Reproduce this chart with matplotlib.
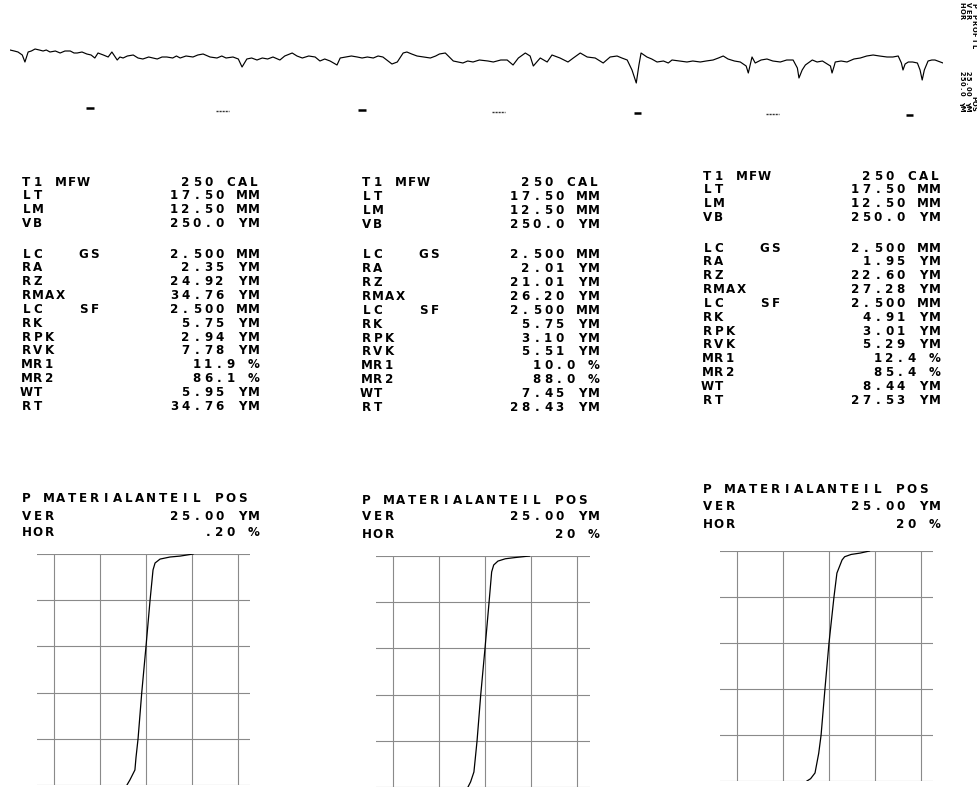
import matplotlib
matplotlib.use("Agg")
import matplotlib.pyplot as plt

W, H = 978, 787

# ---- roughness profile (position along trace in mm, height in um) ----
profile_pos_mm = [
    0.00, 0.08, 0.15, 0.23, 0.28, 0.34, 0.40, 0.47, 0.55, 0.62, 0.68, 0.75, 0.85, 0.94,
    1.03, 1.13, 1.20, 1.26, 1.35, 1.44, 1.52, 1.59, 1.65, 1.75, 1.84, 1.91, 2.01, 2.06,
    2.12, 2.20, 2.31, 2.40, 2.49, 2.60, 2.68, 2.76, 2.85, 2.94, 3.05, 3.12, 3.19, 3.30,
    3.43, 3.52, 3.62, 3.75, 3.88, 3.97, 4.05, 4.18, 4.28, 4.35, 4.44, 4.53, 4.63, 4.73,
    4.83, 4.93, 5.06, 5.15, 5.29, 5.38, 5.48, 5.60, 5.72, 5.81, 5.90, 6.00, 6.13, 6.19,
    6.30, 6.40, 6.51, 6.60, 6.70, 6.81, 6.90, 6.99, 7.16, 7.26, 7.37, 7.44, 7.53, 7.63,
    7.75, 7.88, 7.98, 8.05, 8.16, 8.31, 8.40, 8.49, 8.58, 8.68, 8.80, 8.96, 9.06, 9.20,
    9.32, 9.43, 9.53, 9.66, 9.75, 9.81, 9.94, 10.07, 10.16, 10.31, 10.46, 10.56, 10.69,
    10.82, 10.97, 11.12, 11.25, 11.38, 11.47, 11.57, 11.66, 11.74, 11.79, 11.83, 11.94,
    12.03, 12.13, 12.25, 12.34, 12.41, 12.55, 12.69, 12.80, 12.94, 13.05, 13.18, 13.28,
    13.37, 13.46, 13.58, 13.69, 13.80, 13.84, 13.88, 13.91, 13.97, 14.08, 14.19, 14.30,
    14.44, 14.56, 14.68, 14.76, 14.79, 14.85, 14.91, 15.04, 15.13, 15.23, 15.38, 15.41,
    15.45, 15.47, 15.58, 15.69, 15.82, 15.94, 16.06, 16.18, 16.30, 16.44, 16.55, 16.65,
    16.71, 16.74, 16.78, 16.84, 16.92, 17.01, 17.06, 17.10, 17.14, 17.21, 17.28, 17.34,
    17.49,
]
profile_height_um = [
    7, 6, 5, 2, -5, 5, 6, 8, 7, 6, 7, 5, 6, 4,
    6, 6, 4, 4, 5, 3, 2, -1, 4, 2, 0, 5, -3, 0,
    -1, 1, 2, -1, -2, 0, -1, -2, 0, 0, -1, 1, -1, 1,
    0, 2, 3, 0, -1, 1, -1, 0, -2, -10, -2, -1, -3, -1,
    -2, 0, -3, 1, 4, 1, -1, 1, 0, -4, -2, -4, -8, -1,
    0, 1, 0, -1, 0, -1, 1, 0, -7, -5, 4, 5, 3, 1,
    0, -1, 1, 3, 4, -4, -5, -6, -4, -5, -3, -4, -5, -3,
    -3, -8, -1, 4, 1, -9, -1, -5, 2, -1, -5, -1, 4,
    0, -1, -6, 0, 1, -1, -3, -13, -26, -8, 4, 0,
    -2, -5, -4, -6, -3, -4, -5, -4, -5, -4, -3, -1,
    1, -2, -4, -5, -9, -16, -7, 0, -6, -3, -2, -4,
    -5, -3, -3, -11, -21, -13, -8, -3, -5, -4, -9, -16,
    -9, -5, -4, -5, -2, -1, 1, 2, 1, 0, 0, 1,
    -6, -13, -7, -5, -5, -6, -13, -23, -13, -4, -3, -3,
    -6,
]
# sampling-length markers below the trace
marker_pos_mm = [1.50, 3.98, 6.60, 9.15, 11.76, 14.29, 16.86]
marker_level_um = [-51, -54, -53, -55, -56, -57, -58]

# ---- scale legend of the profile plot ----
side_top = ["P PROFIL", "VER", "HOR"]
side_bottom = ["POS", "25.00 YM", "250.0 YM"]

# ---- evaluation tables, one per measurement ----
header_labels = ["T1 MFW", "LT", "LM", "VB"]
header_values = [
    ["250 CAL", "17.50 MM", "12.50 MM", "250.0 YM"],
    ["250 CAL", "17.50 MM", "12.50 MM", "250.0 YM"],
    ["250 CAL", "17.50 MM", "12.50 MM", "250.0 YM"],
]
param_labels = ["LC   GS", "RA", "RZ", "RMAX", "LC   SF", "RK", "RPK", "RVK",
                "MR1", "MR2", "WT", "RT"]
param_values = [
    ["2.500 MM", "2.35 YM", "24.92 YM", "34.76 YM", "2.500 MM", "5.75 YM",
     "2.94 YM", "7.78 YM", "11.9 %", "86.1 %", "5.95 YM", "34.76 YM"],
    ["2.500 MM", "2.01 YM", "21.01 YM", "26.20 YM", "2.500 MM", "5.75 YM",
     "3.10 YM", "5.51 YM", "10.0 %", "88.0 %", "7.45 YM", "28.43 YM"],
    ["2.500 MM", "1.95 YM", "22.60 YM", "27.28 YM", "2.500 MM", "4.91 YM",
     "3.01 YM", "5.29 YM", "12.4 %", "85.4 %", "8.44 YM", "27.53 YM"],
]
curve_title = "P MATERIALANTEIL POS"
curve_labels = ["VER", "HOR"]
curve_values = [
    ["25.00 YM", ".20 %"],
    ["25.00 YM", "20 %"],
    ["25.00 YM", "20 %"],
]

# ---- bearing-area (Abbott) curves: material ratio % vs height um ----
abbott_mr = [
    [0, 0.9, 1.3, 2.2, 3.9, 6.9, 20, 40, 60, 80, 88, 93.5, 97.8, 100],
    [0, 0.7, 1.2, 2.2, 3.9, 6.9, 20, 40, 60, 80, 88, 93.5, 97.8, 100],
    [0, 0.9, 1.5, 2.5, 3.9, 9.6, 20, 40, 60, 80, 88, 96.5, 99.0, 100],
]
abbott_h = [
    [25.5, 18.5, 13.0, 7.6, 4.9, 3.8, 2.2, 0.0, -2.3, -4.3, -5.4, -6.0, -8.7, -10.3],
    [24.0, 16.0, 11.0, 7.0, 4.7, 3.6, 2.2, 0.0, -2.3, -4.3, -5.3, -6.0, -7.8, -9.2],
    [22.0, 17.0, 12.0, 8.5, 7.1, 4.3, 2.7, 0.0, -2.2, -4.3, -5.6, -7.6, -10.0, -12.0],
]

INK = "black"
GRID = "#8a8a8a"
FONT = dict(family="DejaVu Sans", fontweight="bold", color=INK)

fig = plt.figure(figsize=(W / 100, H / 100), dpi=100)
fig.patch.set_facecolor("white")


def fx(x):
    return x / W


def fy(y):
    return 1 - y / H


def px_axes(left, top, right, bottom):
    return fig.add_axes([fx(left), fy(bottom), (right - left) / W, (bottom - top) / H])


PITCH = 11.35
FIELD = 21


def put_chars(x_first, y, s, size=8.6):
    """Draw a string on a fixed character pitch, like a pen plotter."""
    for i, ch in enumerate(s):
        if ch != " ":
            fig.text(fx(x_first + i * PITCH), fy(y), ch, ha="center", va="center",
                     fontsize=size, **FONT)


def put_row(x_left, y, label, value):
    c0 = x_left + 4.5
    put_chars(c0, y, label)
    put_chars(c0 + (FIELD - len(value)) * PITCH, y, value)


def put_down(x, y_first, s, pitch=5.9, size=4.8):
    """Plotter text written downwards (rotated a quarter turn clockwise)."""
    for i, ch in enumerate(s):
        if ch != " ":
            fig.text(fx(x), fy(y_first + i * pitch), ch, ha="center", va="center",
                     rotation=-90, fontsize=size, **FONT)


# ---- profile trace ----
ax_p = px_axes(10, 20, 943, 125)
ax_p.plot(profile_pos_mm, profile_height_um, color=INK, lw=0.85)
for m, (pos, lvl) in enumerate(zip(marker_pos_mm, marker_level_um)):
    if m % 2 == 0:
        ax_p.plot([pos - 0.07, pos + 0.07], [lvl, lvl], color=INK, lw=1.8,
                  solid_capstyle="butt")
    else:
        ax_p.plot([pos - 0.12, pos + 0.12], [lvl, lvl], color="#333333", lw=1.0,
                  dashes=(1.5, 0.7))
ax_p.set_xlim(0, 17.49)
ax_p.set_ylim(-68, 37)
ax_p.axis("off")

# rotated scale legend at the right edge
side_cols = [973.5, 967.5, 961.5]
for col, (top_txt, bot_txt) in enumerate(zip(side_top, side_bottom)):
    put_down(side_cols[col], 5, top_txt)
    put_down(side_cols[col], 108 - (len(bot_txt) - 1) * 4.9, bot_txt, pitch=4.9)

# ---- three evaluation columns ----
col_x = [22, 362, 703]
col_y = [182, 183, 176]
title_offset = [317, 317, 314]
grid_boxes = [  # left, right, top, bottom, centre vertical line
    (37, 250, 554, 785, 146),
    (376, 590, 556, 787, 485),
    (720, 933, 551, 781, 829),
]
ROW = 13.85
for c in range(3):
    x0, y0 = col_x[c], col_y[c]
    for r, lab in enumerate(header_labels):
        put_row(x0, y0 + r * ROW, lab, header_values[c][r])
    yp = y0 + 72
    for r, lab in enumerate(param_labels):
        put_row(x0, yp + r * ROW, lab, param_values[c][r])
    yc = y0 + title_offset[c]
    put_chars(x0 + 4.5, yc, curve_title)
    for r, lab in enumerate(curve_labels):
        put_row(x0, yc + 17 * (r + 1), lab, curve_values[c][r])

    left, right, top, bottom, centre = grid_boxes[c]
    ax = px_axes(left, top, right, bottom)
    div_px = (bottom - top) / 5.0
    um_per_px = 25.0 / div_px
    ax.set_xlim((left - centre) * um_per_px, (right - centre) * um_per_px)
    ax.set_ylim(100, 0)
    for mr in range(0, 101, 20):
        ax.axhline(mr, color=GRID, lw=0.8)
    for h in (-50, -25, 0, 25, 50):
        ax.plot([h, h], [0, 100], color=GRID, lw=0.8)
    ax.plot(abbott_h[c], abbott_mr[c], color=INK, lw=0.9)
    ax.axis("off")

fig.savefig("out.png", dpi=100, facecolor="white")
